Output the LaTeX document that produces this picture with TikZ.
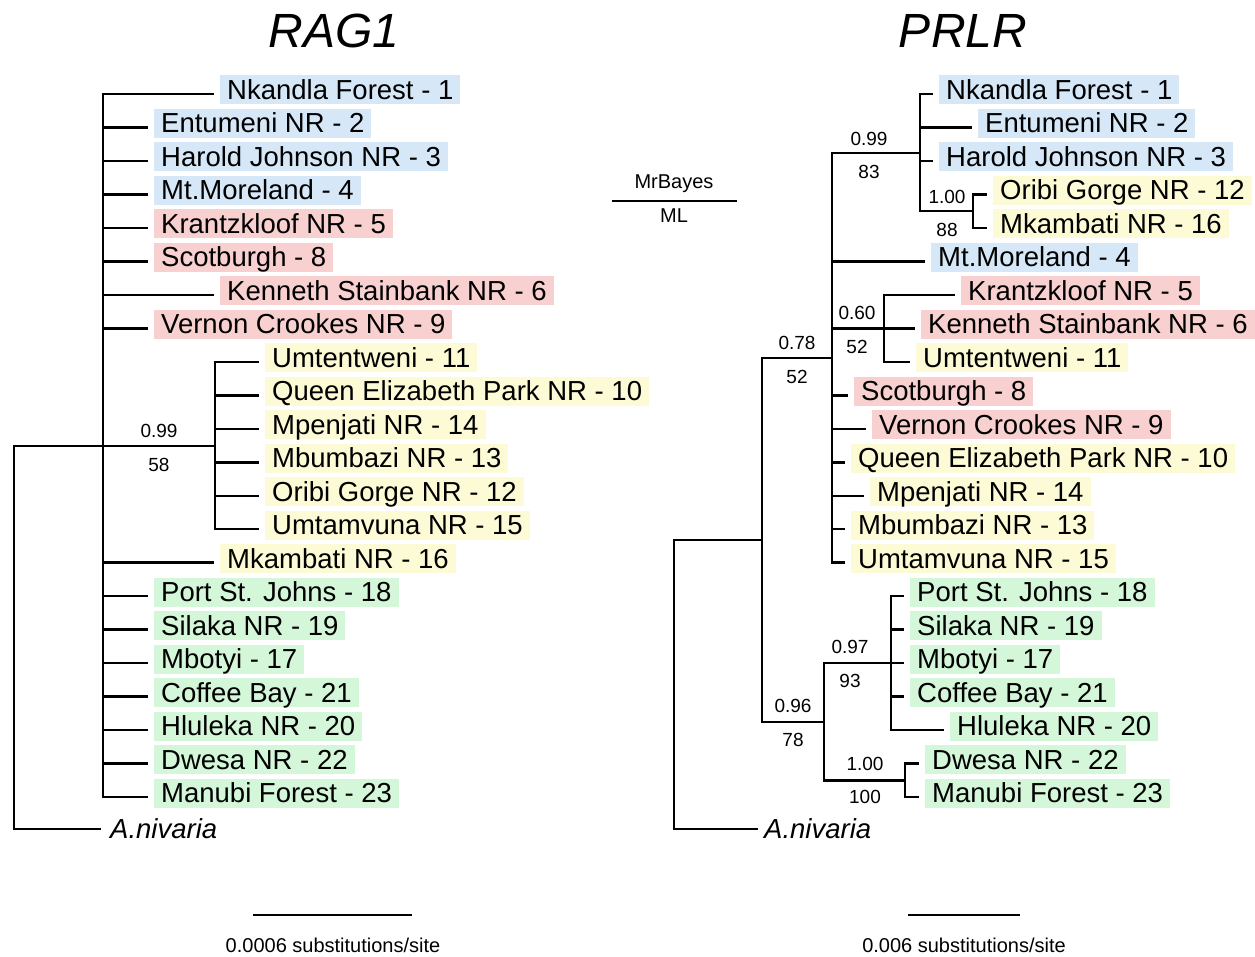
\documentclass[tikz,border=0pt]{standalone}
\usepackage{fontspec}
\setmainfont{Liberation Sans}
\usetikzlibrary{calc}
\definecolor{cblue}{RGB}{214,232,248}
\definecolor{cpink}{RGB}{248,208,208}
\definecolor{cyellow}{RGB}{253,251,214}
\definecolor{cgreen}{RGB}{212,246,217}
\newcommand\labfont{\fontsize{27.5}{30}\selectfont}
\newcommand\supfont{\fontsize{19}{21}\selectfont}
% a leaf: tip coordinate plus its shaded label
\newcommand\leafnode[5]{%
  \coordinate (#1) at (#2,#3);
  \node[#4] (#1-lab) at ([shift={(7,-4)}]#1) {#5};}
\begin{document}
\begin{tikzpicture}[x=1pt,y=-1pt,
  tree/.style={line width=2.5pt,line cap=rect},
  lab/.style={anchor=west,inner xsep=7pt,inner ysep=3pt,text height=21pt,text depth=2pt,font=\labfont},
  lblue/.style={lab,fill=cblue},
  lpink/.style={lab,fill=cpink},
  lyel/.style={lab,fill=cyellow},
  lgreen/.style={lab,fill=cgreen},
  outg/.style={anchor=west,inner sep=0pt,text height=21pt,text depth=2pt,font=\labfont\itshape},
  sup/.style={inner sep=0pt,font=\supfont},
  title/.style={inner sep=0pt,font=\fontsize{48}{52}\selectfont\itshape},
  scaletext/.style={inner sep=0pt,font=\fontsize{20}{22}\selectfont}]
\useasboundingbox (0,0) rectangle (1255,957);

% ---------- titles ----------
\node[title] (tRAG) at (334,31) {RAG1};
\node[title] (tPRLR) at (963,31) {PRLR};

% ---------- legend ----------
\coordinate (legA) at (612,201);
\coordinate (legB) at (737,201);
\draw[line width=2pt] (legA) -- (legB);
\node[inner sep=0pt,font=\fontsize{20}{22}\selectfont] (legMB) at (674,184) {MrBayes};
\node[inner sep=0pt,font=\fontsize{20}{22}\selectfont] (legML) at (674,216) {ML};

% ================= RAG1 tree =================
\coordinate (LR) at (14,446);
\coordinate (LB) at (103,446);
\coordinate (LC) at (215,446);

\leafnode{l1}{213}{94.0}{lblue}{Nkandla Forest - 1}
\leafnode{l2}{147}{127.5}{lblue}{Entumeni NR - 2}
\leafnode{l3}{147}{161.0}{lblue}{Harold Johnson NR - 3}
\leafnode{l4}{147}{194.4}{lblue}{Mt.Moreland - 4}
\leafnode{l5}{147}{227.9}{lpink}{Krantzkloof NR - 5}
\leafnode{l8}{147}{261.4}{lpink}{Scotburgh - 8}
\leafnode{l6}{213}{294.9}{lpink}{Kenneth Stainbank NR - 6}
\leafnode{l9}{147}{328.4}{lpink}{Vernon Crookes NR - 9}
\leafnode{l11}{258}{361.8}{lyel}{Umtentweni - 11}
\leafnode{l10}{258}{395.3}{lyel}{Queen Elizabeth Park NR - 10}
\leafnode{l14}{258}{428.8}{lyel}{Mpenjati NR - 14}
\leafnode{l13}{258}{462.3}{lyel}{Mbumbazi NR - 13}
\leafnode{l12}{258}{495.8}{lyel}{Oribi Gorge NR - 12}
\leafnode{l15}{258}{529.2}{lyel}{Umtamvuna NR - 15}
\leafnode{l16}{213}{562.7}{lyel}{Mkambati NR - 16}
\leafnode{l18}{147}{596.2}{lgreen}{Port St. Johns - 18}
\leafnode{l19}{147}{629.7}{lgreen}{Silaka NR - 19}
\leafnode{l17}{147}{663.2}{lgreen}{Mbotyi - 17}
\leafnode{l21}{147}{696.6}{lgreen}{Coffee Bay - 21}
\leafnode{l20}{147}{730.1}{lgreen}{Hluleka NR - 20}
\leafnode{l22}{147}{763.6}{lgreen}{Dwesa NR - 22}
\leafnode{l23}{147}{797.1}{lgreen}{Manubi Forest - 23}
\coordinate (lout) at (100,829);
\node[outg] (lout-lab) at ([shift={(10,0)}]lout) {A.nivaria};

\draw[tree] (LR) -- (LC);
\draw[tree] (LR) -- (LR |- lout) -- (lout);
\draw[tree] (LB |- l1) -- (LB |- l23);
\draw[tree] (LC |- l11) -- (LC |- l15);
\foreach \t in {l1,l2,l3,l4,l5,l8,l6,l9,l16,l18,l19,l17,l21,l20,l22,l23}
  \draw[tree] (LB |- \t) -- (\t);
\foreach \t in {l11,l10,l14,l13,l12,l15}
  \draw[tree] (LC |- \t) -- (\t);

\node[sup] (sLa) at (159,431) {0.99};
\node[sup] (sLb) at (159,465) {58};

% ================= PRLR tree =================
\coordinate (RR) at (674,539.8);
\coordinate (RI) at (762,539.8);
\coordinate (RB) at (832,357.9);
\coordinate (R99) at (920,153);
\coordinate (R100a) at (973,211.2);
\coordinate (R60) at (884,328.4);
\coordinate (R96) at (824,721.8);
\coordinate (R97) at (891,663.2);
\coordinate (R100b) at (905,780.4);

\leafnode{r1}{932}{94.0}{lblue}{Nkandla Forest - 1}
\leafnode{r2}{971}{127.5}{lblue}{Entumeni NR - 2}
\leafnode{r3}{932}{161.0}{lblue}{Harold Johnson NR - 3}
\leafnode{r12}{986}{194.4}{lyel}{Oribi Gorge NR - 12}
\leafnode{r16}{986}{227.9}{lyel}{Mkambati NR - 16}
\leafnode{r4}{924}{261.4}{lblue}{Mt.Moreland - 4}
\leafnode{r5}{954}{294.9}{lpink}{Krantzkloof NR - 5}
\leafnode{r6}{914}{328.4}{lpink}{Kenneth Stainbank NR - 6}
\leafnode{r11}{909}{361.8}{lyel}{Umtentweni - 11}
\leafnode{r8}{847}{395.3}{lpink}{Scotburgh - 8}
\leafnode{r9}{865}{428.8}{lpink}{Vernon Crookes NR - 9}
\leafnode{r10}{844}{462.3}{lyel}{Queen Elizabeth Park NR - 10}
\leafnode{r14}{863}{495.8}{lyel}{Mpenjati NR - 14}
\leafnode{r13}{844}{529.2}{lyel}{Mbumbazi NR - 13}
\leafnode{r15}{844}{562.7}{lyel}{Umtamvuna NR - 15}
\leafnode{r18}{903}{596.2}{lgreen}{Port St. Johns - 18}
\leafnode{r19}{903}{629.7}{lgreen}{Silaka NR - 19}
\leafnode{r17}{903}{663.2}{lgreen}{Mbotyi - 17}
\leafnode{r21}{903}{696.6}{lgreen}{Coffee Bay - 21}
\leafnode{r20}{943}{730.1}{lgreen}{Hluleka NR - 20}
\leafnode{r22}{918}{763.6}{lgreen}{Dwesa NR - 22}
\leafnode{r23}{918}{797.1}{lgreen}{Manubi Forest - 23}
\coordinate (rout) at (757,829);
\node[outg] (rout-lab) at ([shift={(7,0)}]rout) {A.nivaria};

% root and ingroup
\draw[tree] (RR) -- (RI);
\draw[tree] (RR) -- (RR |- rout) -- (rout);
\draw[tree] (RI |- RB) -- (RI |- R96);
\draw[tree] (RI |- RB) -- (RB);
\draw[tree] (RI |- R96) -- (R96);
% main clade backbone
\draw[tree] (RB |- R99) -- (RB |- r15);
\draw[tree] (RB |- R99) -- (R99);
\draw[tree] (R99 |- r1) -- (R99 |- R100a);
\foreach \t in {r1,r2,r3} \draw[tree] (R99 |- \t) -- (\t);
\draw[tree] (R99 |- R100a) -- (R100a);
\draw[tree] (R100a |- r12) -- (R100a |- r16);
\foreach \t in {r12,r16} \draw[tree] (R100a |- \t) -- (\t);
\draw[tree] (RB |- R60) -- (R60);
\draw[tree] (R60 |- r5) -- (R60 |- r11);
\foreach \t in {r5,r6,r11} \draw[tree] (R60 |- \t) -- (\t);
\foreach \t in {r4,r8,r9,r10,r14,r13,r15} \draw[tree] (RB |- \t) -- (\t);
% eastern clade
\draw[tree] (R96 |- R97) -- (R96 |- R100b);
\draw[tree] (R96 |- R97) -- (R97);
\draw[tree] (R96 |- R100b) -- (R100b);
\draw[tree] (R97 |- r18) -- (R97 |- r20);
\foreach \t in {r18,r19,r17,r21,r20} \draw[tree] (R97 |- \t) -- (\t);
\draw[tree] (R100b |- r22) -- (R100b |- r23);
\foreach \t in {r22,r23} \draw[tree] (R100b |- \t) -- (\t);

% support values (posterior above, bootstrap below)
\node[sup] (s99a) at (869,139) {0.99};
\node[sup] (s99b) at (869,172) {83};
\node[sup] (s100aa) at (947,197) {1.00};
\node[sup] (s100ab) at (947,230) {88};
\node[sup] (s60a) at (857,313) {0.60};
\node[sup] (s60b) at (857,347) {52};
\node[sup] (s78a) at (797,343) {0.78};
\node[sup] (s78b) at (797,377) {52};
\node[sup] (s97a) at (850,647) {0.97};
\node[sup] (s97b) at (850,681) {93};
\node[sup] (s96a) at (793,706) {0.96};
\node[sup] (s96b) at (793,740) {78};
\node[sup] (s100ba) at (865,764) {1.00};
\node[sup] (s100bb) at (865,797) {100};

% ---------- scale bars ----------
\coordinate (sbLa) at (253,915);
\coordinate (sbLb) at (412,915);
\draw[line width=2.2pt] (sbLa) -- (sbLb);
\node[scaletext] (sbLt) at (333,945) {0.0006 substitutions/site};
\coordinate (sbRa) at (908,915);
\coordinate (sbRb) at (1020,915);
\draw[line width=2.2pt] (sbRa) -- (sbRb);
\node[scaletext] (sbRt) at (964,945) {0.006 substitutions/site};
\end{tikzpicture}
\end{document}
